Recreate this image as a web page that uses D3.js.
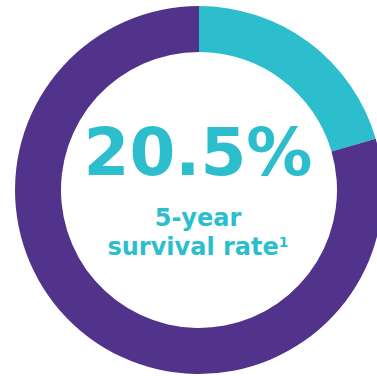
<!DOCTYPE html>
<html>
<head>
<meta charset="utf-8">
<script src="https://cdn.jsdelivr.net/npm/d3@7.9.0/dist/d3.min.js"></script>
<style>
  html, body { margin: 0; padding: 0; background: #fff; overflow: hidden; }
  svg { display: block; }
  text { font-family: "DejaVu Sans", Verdana, sans-serif; font-weight: bold; }
</style>
</head>
<body>
<div id="chart"></div>
<script>
// survival share vs. the rest
const labels = ['Survived 5 years', 'Other'];
const values = [20.5, 79.5];
const colors = ['#2dbecd', '#51338b'];
const subtitleLines = ['5-year', 'survival rate'];

const width = 377;
const height = 376;
const cx = 199, cy = 190;
const outerR = 184, innerR = 138;

const svg = d3.select('#chart')
    .append('svg')
    .attr('width', width)
    .attr('height', height);

const pie = d3.pie().sort(null).value((d) => d.value);
const arc = d3.arc().innerRadius(innerR).outerRadius(outerR);

const slices = pie(labels.map((l, i) => ({ label: l, value: values[i] })));

const g = svg.append('g').attr('transform', `translate(${cx}, ${cy})`);

g.selectAll('path')
    .data(slices)
    .join('path')
    .attr('d', arc)
    .attr('fill', (d, i) => colors[i]);

// big percentage in the hole
g.append('text')
    .attr('x', -1)
    .attr('y', -15)
    .attr('text-anchor', 'middle')
    .attr('font-size', 66)
    .attr('fill', colors[0])
    .text(`${values[0]}%`);

g.append('text')
    .attr('x', -1)
    .attr('y', 36)
    .attr('text-anchor', 'middle')
    .attr('font-size', 24)
    .attr('fill', colors[0])
    .text(subtitleLines[0]);

const line2 = g.append('text')
    .attr('x', -1)
    .attr('y', 65)
    .attr('text-anchor', 'middle')
    .attr('font-size', 24)
    .attr('fill', colors[0]);
line2.append('tspan').text(subtitleLines[1]);
line2.append('tspan')
    .attr('font-size', 14)
    .attr('dy', -8)
    .text('1');
</script>
</body>
</html>
